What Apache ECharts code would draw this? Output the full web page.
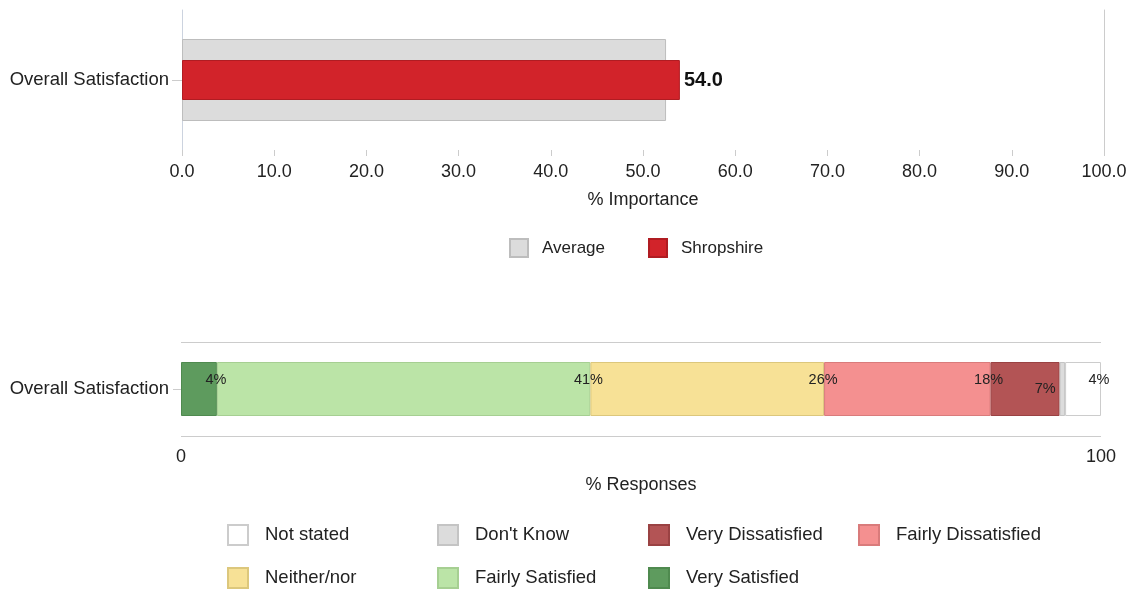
<!DOCTYPE html>
<html>
<head>
<meta charset="utf-8">
<script src="https://cdn.jsdelivr.net/npm/echarts@6/dist/echarts.min.js"></script>
<style>html,body{margin:0;padding:0;background:#fff}#c{width:1134px;height:592px}</style>
</head>
<body>
<div id="c"></div>
<script>
var categories = ['Overall Satisfaction'];
var importanceTicks = [0, 10, 20, 30, 40, 50, 60, 70, 80, 90, 100];
var averageValues = [52.5];
var shropshireValues = [54.0];

var responseNames = ['Very Satisfied', 'Fairly Satisfied', 'Neither/nor', 'Fairly Dissatisfied', 'Very Dissatisfied', "Don't Know", 'Not stated'];
var verySatisfied = [3.9];
var fairlySatisfied = [40.6];
var neitherNor = [25.4];
var fairlyDissatisfied = [18.1];
var veryDissatisfied = [7.5];
var dontKnow = [0.6];
var notStated = [3.9];
var responseLabels = ['4%', '41%', '26%', '18%', '7%', '', '4%'];

var FONT = '"Liberation Sans", Arial, sans-serif';
var TXT = '#222';

var respValues = [verySatisfied, fairlySatisfied, neitherNor, fairlyDissatisfied, veryDissatisfied, dontKnow, notStated];
var respColors = ['#5e9b5e', '#bbe4a7', '#f7e196', '#f49090', '#b35455', '#dcdcdc', '#ffffff'];
var respBorders = ['#4f8a4f', '#a6cf92', '#dcc77c', '#d97b7b', '#9a4243', '#c4c4c4', '#cccccc'];
var respLabelPos = [
  {position: ['100%', '34%'], align: 'center', offset: [-1, 0]},
  {position: ['100%', '34%'], align: 'center', offset: [-2, 0]},
  {position: ['100%', '34%'], align: 'center', offset: [-1, 0]},
  {position: ['100%', '34%'], align: 'center', offset: [-2, 0]},
  {position: ['100%', '50%'], align: 'right', offset: [-4, 0]},
  {position: ['100%', '34%'], align: 'center', offset: [0, 0]},
  {position: ['100%', '34%'], align: 'center', offset: [-2, 0]}
];

var respSeries = responseNames.map(function (n, i) {
  return {
    name: n, type: 'bar', stack: 'resp', xAxisIndex: 1, yAxisIndex: 3,
    barWidth: 54, data: respValues[i],
    itemStyle: {color: respColors[i], borderColor: respBorders[i], borderWidth: 1},
    label: {
      show: responseLabels[i] !== '', formatter: responseLabels[i],
      position: respLabelPos[i].position, align: respLabelPos[i].align,
      offset: respLabelPos[i].offset, verticalAlign: 'middle',
      fontFamily: FONT, fontSize: 14.5, color: TXT
    },
    emphasis: {disabled: true}
  };
});

var legendSpots = [
  ['Not stated', 227, 524], ["Don't Know", 437, 524], ['Very Dissatisfied', 648, 524], ['Fairly Dissatisfied', 858, 524],
  ['Neither/nor', 227, 567], ['Fairly Satisfied', 437, 567], ['Very Satisfied', 648, 567]
];
var legends = [{
  data: ['Average', 'Shropshire'], left: 509, top: 238, padding: 0, itemWidth: 18, itemHeight: 18, itemGap: 43, icon: 'rect',
  textStyle: {fontFamily: FONT, fontSize: 17, color: TXT, padding: [0, 0, 0, 9]}, selectedMode: false
}];
legendSpots.forEach(function (s) {
  legends.push({
    data: [s[0]], left: s[1], top: s[2], padding: 0, itemWidth: 20, itemHeight: 20, icon: 'rect',
    textStyle: {fontFamily: FONT, fontSize: 18.5, color: TXT, padding: [0, 0, 0, 12]}, selectedMode: false
  });
});

var option = {
  animation: false,
  textStyle: {fontFamily: FONT},
  legend: legends,
  grid: [
    {left: 182, right: 30, top: 10, bottom: 442},
    {left: 181, right: 33, top: 342, bottom: 156}
  ],
  xAxis: [
    {
      type: 'value', gridIndex: 0, min: importanceTicks[0], max: importanceTicks[importanceTicks.length - 1], interval: 10,
      axisLine: {show: false}, axisTick: {show: true, length: 6, lineStyle: {color: '#ccc'}},
      splitLine: {show: false},
      axisLabel: {formatter: function (v) { return v.toFixed(1); }, fontSize: 18, color: TXT, margin: 13, fontFamily: FONT},
      name: '% Importance', nameLocation: 'middle', nameGap: 41,
      nameTextStyle: {fontSize: 18, color: TXT, fontFamily: FONT}
    },
    {
      type: 'value', gridIndex: 1, min: 0, max: 100, interval: 100,
      axisLine: {show: false}, axisTick: {show: false}, splitLine: {show: false},
      axisLabel: {fontSize: 18, color: TXT, margin: 12, fontFamily: FONT},
      name: '% Responses', nameLocation: 'middle', nameGap: 40,
      nameTextStyle: {fontSize: 18, color: TXT, fontFamily: FONT}
    }
  ],
  yAxis: [
    {
      type: 'category', gridIndex: 0, data: categories,
      axisLine: {show: true, lineStyle: {color: '#ccd3df'}},
      axisTick: {show: true, alignWithLabel: true, length: 10, lineStyle: {color: '#ccc'}},
      axisLabel: {fontSize: 18.5, color: TXT, margin: 13, fontFamily: FONT}
    },
    {
      type: 'category', gridIndex: 0, data: categories, show: false
    },
    {
      type: 'value', gridIndex: 0, position: 'right',
      axisLine: {show: true, lineStyle: {color: '#ccc'}}, axisTick: {show: false},
      axisLabel: {show: false}, splitLine: {show: false}
    },
    {
      type: 'category', gridIndex: 1, data: categories,
      axisLine: {show: false},
      axisTick: {show: true, alignWithLabel: true, length: 8, lineStyle: {color: '#ccc'}},
      splitLine: {show: true, lineStyle: {color: '#ccc'}},
      axisLabel: {fontSize: 18.5, color: TXT, margin: 12, fontFamily: FONT}
    }
  ],
  series: [
    {
      name: 'Average', type: 'bar', xAxisIndex: 0, yAxisIndex: 1, barWidth: 82, z: 1,
      data: averageValues,
      itemStyle: {color: '#dcdcdc', borderColor: '#bdbdbd', borderWidth: 1},
      emphasis: {disabled: true}
    },
    {
      name: 'Shropshire', type: 'bar', xAxisIndex: 0, yAxisIndex: 0, barWidth: 40, z: 3,
      data: shropshireValues,
      itemStyle: {color: '#d2232a', borderColor: '#b01c22', borderWidth: 1},
      label: {show: true, position: 'right', distance: 4, formatter: function (p) { return p.value.toFixed(1); },
        fontSize: 20, fontWeight: 'bold', color: '#111', fontFamily: FONT},
      emphasis: {disabled: true}
    }
  ].concat(respSeries)
};

var chart = echarts.init(document.getElementById('c'), null, {renderer: 'canvas'});
chart.setOption(option);
</script>
</body>
</html>
